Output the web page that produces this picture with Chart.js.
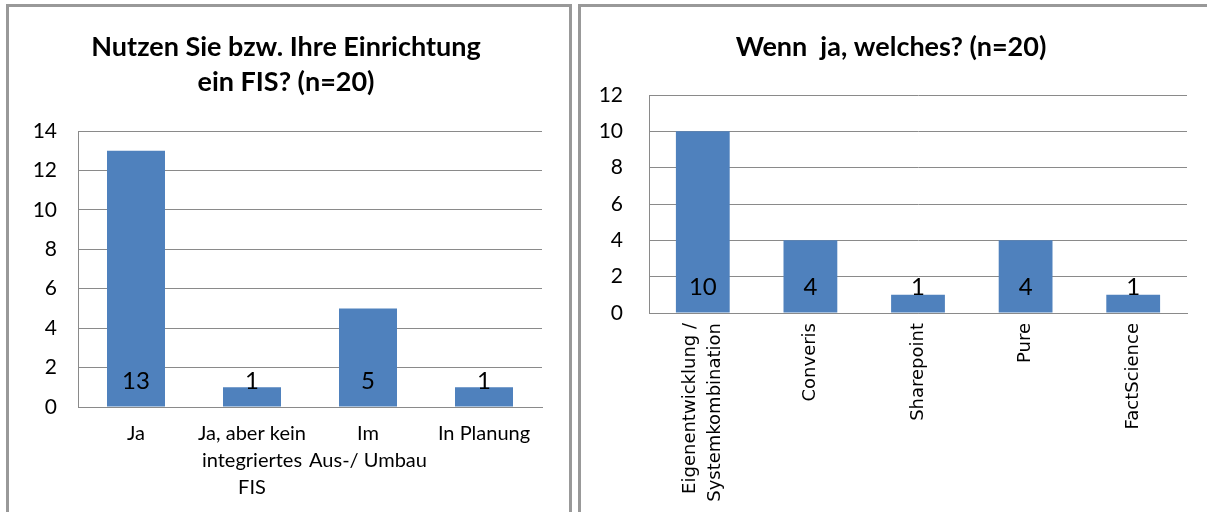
<!DOCTYPE html>
<html>
<head>
<meta charset="utf-8">
<script src="https://cdn.jsdelivr.net/npm/chart.js@4"></script>
<style>
    body { margin: 0; background: #fff; width: 1207px; height: 512px; overflow: hidden; position: relative; }
    .panel { position: absolute; top: 4px; height: 530px; border: 3px solid #999; box-sizing: border-box; }
    canvas { position: absolute; top: 0; }
</style>
</head>
<body>
<div class="panel" style="left:6px; width:566px;"></div>
<div class="panel" style="left:578px; width:640px;"></div>
<div style="position:absolute; left:0; top:0; width:575px; height:512px;"><canvas id="fis_usage"></canvas></div>
<div style="position:absolute; left:575px; top:0; width:632px; height:512px;"><canvas id="fis_which"></canvas></div>
<script>
    // ------------------ data ---------------------------//
    var usageLabels = ["Ja", ["Ja, aber kein", "integriertes", "FIS"], ["Im", "Aus-/ Umbau"], "In Planung"];
    var usageValues = [13, 1, 5, 1];

    var whichLabels = [["Eigenentwicklung /", "Systemkombination"], "Converis", "Sharepoint", "Pure", "FactScience"];
    var whichValues = [10, 4, 1, 4, 1];

    var barColor = "#4F81BD";
    var gridColor = "#8a8a8a";

    // value labels drawn "inside base" like Excel
    var baseLabels = {
        id: "baseLabels",
        afterDatasetsDraw: function (chart) {
            var ctx = chart.ctx;
            var yScale = chart.scales.y;
            var base = yScale.getPixelForValue(0);
            ctx.save();
            ctx.font = "24px Lato";
            ctx.fillStyle = "#000";
            ctx.textAlign = "center";
            ctx.textBaseline = "middle";
            chart.getDatasetMeta(0).data.forEach(function (bar, i) {
                ctx.fillText(String(chart.data.datasets[0].data[i]), bar.x, base - 26);
            });
            ctx.restore();
        }
    };

    // rotated multi-line labels: centre the lines on the tick instead of starting there
    var centerRotated = {
        id: "centerRotated",
        beforeDraw: function (chart) {
            var scale = chart.scales.x;
            if (!scale.labelRotation) return;
            var lh = scale.options.ticks.font.size * scale.options.ticks.font.lineHeight;
            scale.getLabelItems().forEach(function (item) {
                var t = item.options && item.options.translation;
                if (t && Array.isArray(item.label) && !item._shifted) {
                    t[0] -= (item.label.length - 1) * lh / 2;
                    item._shifted = true;
                }
            });
        }
    };

    function makeChart(id, labels, values, o) {
        return new Chart(document.getElementById(id), {
            type: "bar",
            data: {
                labels: labels,
                datasets: [{
                    data: values,
                    backgroundColor: barColor,
                    categoryPercentage: 1,
                    barPercentage: 0.5
                }]
            },
            plugins: [baseLabels, centerRotated],
            options: {
                responsive: true,
                maintainAspectRatio: false,
                animation: false,
                layout: { padding: { left: o.padLeft, right: o.padRight, top: 0, bottom: 0 } },
                plugins: {
                    legend: { display: false },
                    tooltip: { enabled: false },
                    title: {
                        display: true,
                        text: o.title,
                        color: "#000",
                        font: { family: "Lato", size: 27, weight: "bold", lineHeight: 1.3 },
                        padding: { top: 29.5, bottom: o.titleBottom }
                    }
                },
                scales: {
                    x: {
                        grid: { display: false, drawTicks: false },
                        border: { color: gridColor },
                        ticks: {
                            color: "#000",
                            padding: o.xPad,
                            autoSkip: false,
                            minRotation: o.rot,
                            maxRotation: o.rot,
                            font: o.xFont
                        },
                        afterFit: function (s) { s.height = o.xHeight; }
                    },
                    y: {
                        min: 0,
                        max: o.yMax,
                        grid: { color: gridColor, drawTicks: false },
                        border: { color: gridColor },
                        ticks: {
                            stepSize: 2,
                            color: "#000",
                            padding: o.yPad,
                            font: { family: "Lato", size: 21 }
                        },
                        afterFit: function (s) { s.width = o.yWidth; }
                    }
                }
            }
        });
    }

    makeChart("fis_usage", usageLabels, usageValues, {
        title: ["Nutzen Sie bzw. Ihre Einrichtung", "ein FIS? (n=20)"],
        titleBottom: 31.3,
        padLeft: 30,
        padRight: 33,
        yMax: 14,
        yWidth: 48,
        yPad: 21,
        xHeight: 105,
        xPad: 13,
        rot: 0,
        xFont: { family: "Lato", size: 20, lineHeight: 1.35 }
    });

    makeChart("fis_which", whichLabels, whichValues, {
        title: "Wenn  ja, welches? (n=20)",
        titleBottom: 30.4,
        padLeft: 20,
        padRight: 20,
        yMax: 12,
        yWidth: 54,
        yPad: 26,
        xHeight: 199,
        xPad: 10,
        rot: 90,
        xFont: { family: "DejaVu Sans", size: 18, lineHeight: 1.4 }
    });
</script>
</body>
</html>
